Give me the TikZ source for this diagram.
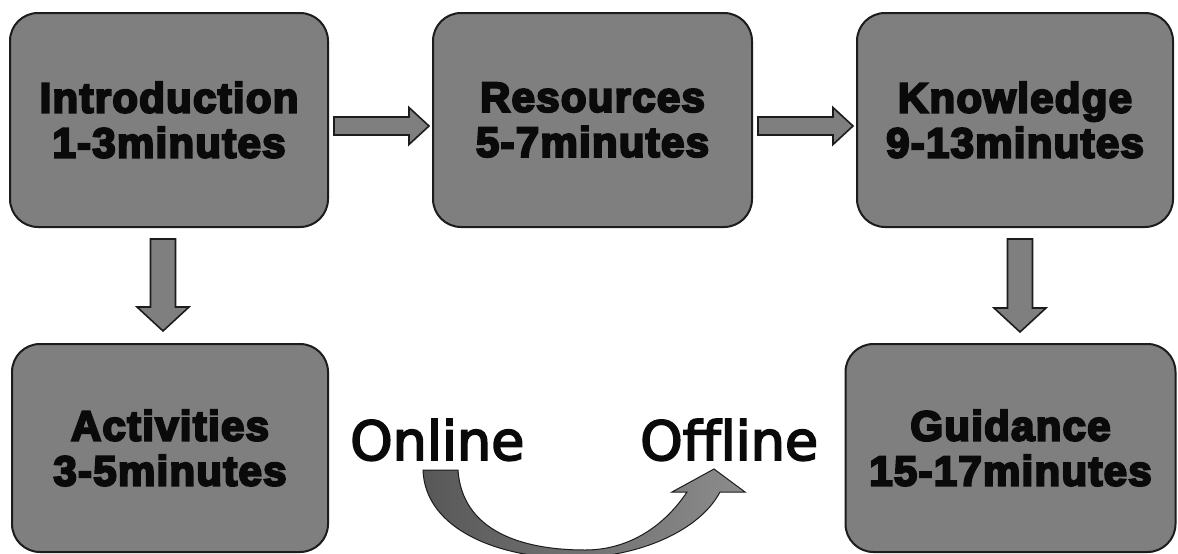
\documentclass[tikz,border=0pt]{standalone}
\usepackage{fontspec}
\usetikzlibrary{calc}
\newfontfamily\boxfont[LetterSpace=3]{Liberation Sans}
\newfontfamily\labfont[Ligatures=CommonOff]{DejaVu Sans}
\newcommand{\heavytext}[1]{\special{pdf:literal direct 2 Tr #1 w}}
\definecolor{boxgray}{HTML}{7F7F7F}
\definecolor{edge}{HTML}{1C1C1C}
\definecolor{ink}{HTML}{0A0A0A}
\definecolor{curvedark}{HTML}{585858}
\definecolor{curvelight}{HTML}{8C8C8C}
\tikzset{
  stagebox/.style={draw=edge, line width=2pt, fill=boxgray, rounded corners=28pt,
    inner sep=0pt, align=center, text=ink,
    font=\boxfont\bfseries\fontsize{42}{45}\selectfont\heavytext{2.2}},
  blk/.style={draw=edge, line width=1.6pt, fill=boxgray, line join=miter},
  rarrow/.style={to path={let \p1=(\tikztostart), \p2=(\tikztotarget) in
    (\x1,\y1+9pt) -- (\x2-20pt,\y1+9pt) -- (\x2-20pt,\y1+18.5pt) -- (\x2,\y1)
    -- (\x2-20pt,\y1-18.5pt) -- (\x2-20pt,\y1-9pt) -- (\x1,\y1-9pt) -- cycle}},
  darrow/.style={to path={let \p1=(\tikztostart), \p2=(\tikztotarget) in
    (\x1-12.5pt,\y1) -- (\x1-12.5pt,\y2+24pt) -- (\x1-26pt,\y2+24pt) -- (\x1,\y2)
    -- (\x1+26pt,\y2+24pt) -- (\x1+12.5pt,\y2+24pt) -- (\x1+12.5pt,\y1) -- cycle}},
  word/.style={anchor=base west, inner sep=0pt, text=ink,
    font=\labfont\fontsize{54}{60}\selectfont\heavytext{1.8}}
}
\begin{document}
\begin{tikzpicture}[x=1pt,y=-1pt]
\useasboundingbox (0,0) rectangle (1178,554);
\fill[white] (0,0) rectangle (1178,554);

\node[stagebox, minimum width=318pt, minimum height=214pt] (intro) at (169,120)
  {Introduction\\1-3minutes};
\node[stagebox, minimum width=319pt, minimum height=214pt] (res) at (592.5,120)
  {Resources\\5-7minutes};
\node[stagebox, minimum width=316pt, minimum height=214pt] (know) at (1015,120)
  {Knowledge\\9-13minutes};
\node[stagebox, minimum width=316pt, minimum height=208pt] (act) at (170,448)
  {Activities\\3-5minutes};
\node[stagebox, minimum width=330pt, minimum height=208pt] (guid) at (1010.5,448)
  {Guidance\\15-17minutes};

\draw[blk] ($(intro.east)+(5,6)$) to[rarrow] ($(res.west)+(-3,6)$);
\draw[blk] ($(res.east)+(5,6)$) to[rarrow] ($(know.west)+(-3,6)$);
\draw[blk] ($(intro.south)+(-6,11)$) to[darrow] ($(act.north)+(-7,-12)$);
\draw[blk] ($(know.south)+(5,11)$) to[darrow] ($(guid.north)+(9.5,-11)$);

\node[word] (online) at (350,460) {Online};
\node[word] (offline) at (640,460) {Offline};

\path[draw=edge, line width=1pt, left color=curvedark, right color=curvelight]
  (423,470) .. controls (425,530) and (500,558) .. (570,558)
  .. controls (640,558) and (700,530) .. (720,492)
  -- (745,492) -- (714,469) -- (672,492) -- (687,492)
  .. controls (665,525) and (630,550) .. (585,550)
  .. controls (520,550) and (462,530) .. (458,470) -- cycle;
\end{tikzpicture}
\end{document}
